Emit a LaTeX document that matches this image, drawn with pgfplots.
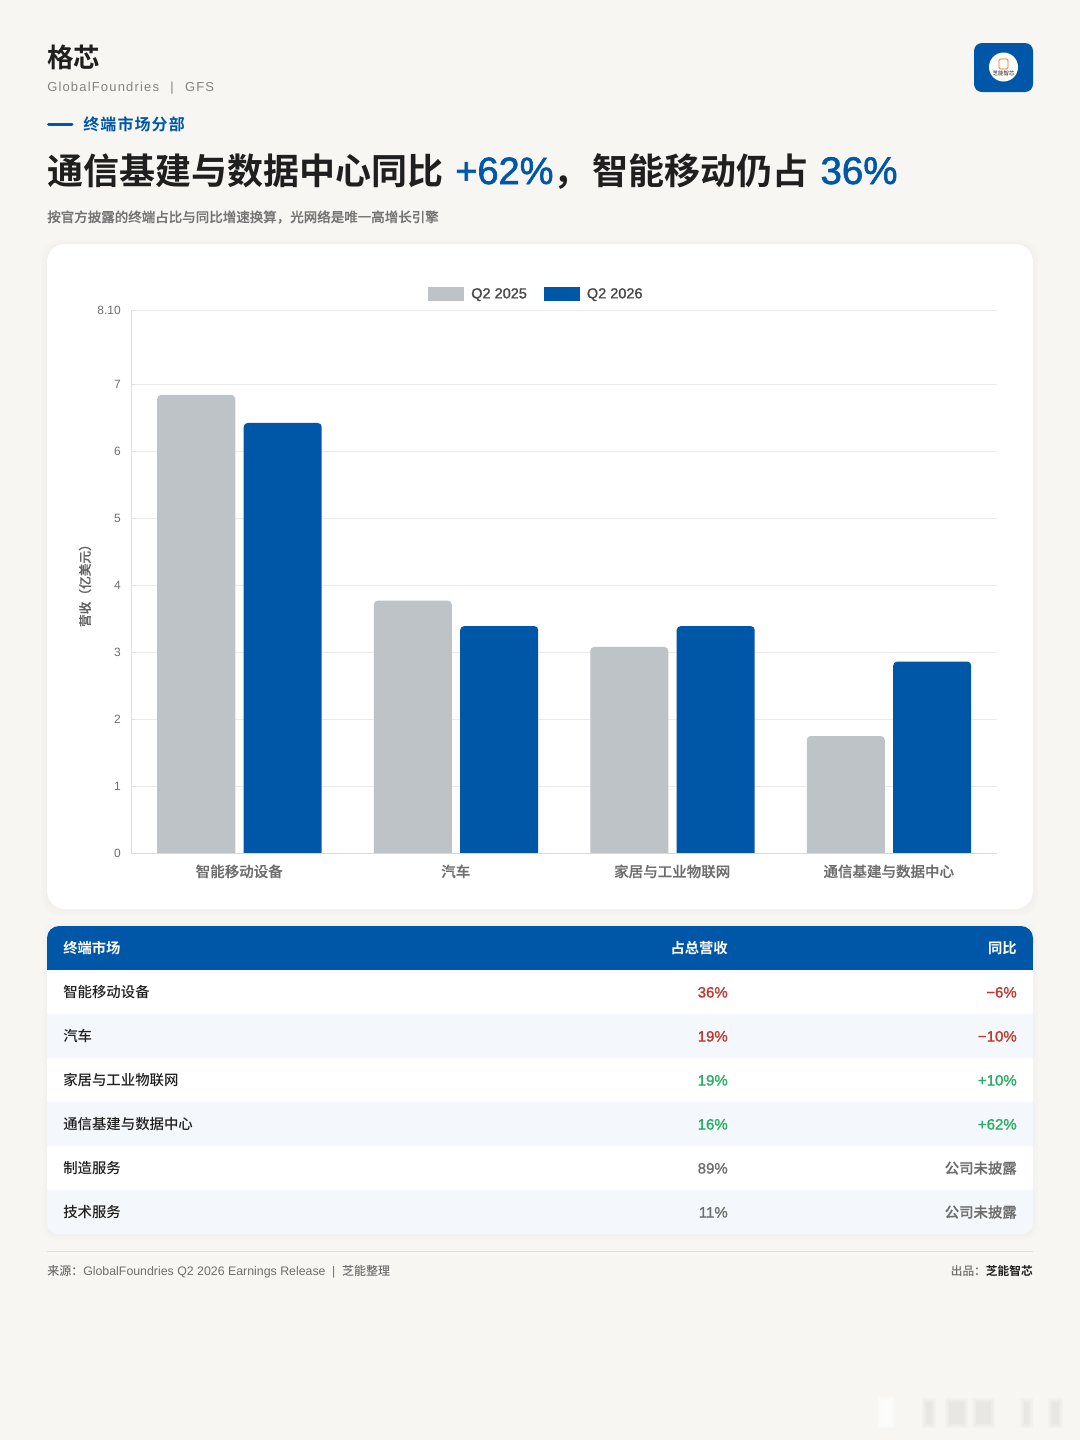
\documentclass[border=0pt]{standalone}
\usepackage{fontspec}
\usepackage{pgfplots}
\pgfplotsset{compat=1.18}
\setmainfont{Liberation Sans}
\newfontfamily\cjk{Noto Sans CJK SC Medium}
\newfontfamily\cjkn{Noto Sans CJK SC Medium}
\newfontfamily\cjkm[FakeBold=0.4]{Noto Sans CJK SC Medium}
\newfontfamily\cjkb{Noto Sans CJK SC Bold}
\newfontfamily\lsp[LetterSpace=9]{Liberation Sans}
\newfontfamily\lmed[FakeBold=1.2]{Liberation Sans}
\newfontfamily\lmedb[FakeBold=1.6]{Liberation Sans}
\newfontfamily\cjkbs[LetterSpace=7]{Noto Sans CJK SC Bold}
\definecolor{pagebg}{HTML}{F7F6F3}
\definecolor{gfblue}{HTML}{0057A8}
\definecolor{barg}{HTML}{BDC3C7}
\definecolor{ink}{HTML}{1F1F1F}
\definecolor{txtg}{HTML}{6E6E6E}
\definecolor{rowalt}{HTML}{F4F7FB}
\definecolor{redv}{HTML}{C0392B}
\definecolor{greenv}{HTML}{27AE60}
\makeatletter
\newcommand{\fs}[1]{\pgfmathsetmacro\@fsz{#1*0.75}\fontsize{\@fsz pt}{\@fsz pt}\selectfont}
\makeatother
\newcommand{\T}[4][ink]{\node[anchor=base #2,inner sep=0pt,text=#1] at #3 {#4};}
\tikzset{px/.style={x=0.75pt,y=-0.75pt}}
\begin{document}
\begin{tikzpicture}
\begin{scope}[px]
\useasboundingbox (0,0) rectangle (1080,1440);
\fill[pagebg] (0,0) rectangle (1080,1440);
% header
\T{west}{(47,67)}{\fs{26.5}\cjkb 格芯}
\T[txtg!85]{west}{(47,91)}{\fs{13}\lsp GlobalFoundries\hspace{8.5pt}|\hspace{8.5pt}GFS}
\draw[gfblue,line width=2.25pt,line cap=round] (48.5,124) -- (72,124);
\T[gfblue]{west}{(83,130)}{\fs{16}\cjkbs 终端市场分部}
\T{west}{(47,184)}{\fs{36}\cjkb 通信基建与数据中心同比\hspace{9pt}{\color{gfblue}\fs{38}\lmedb +62\%}{\cjkb ，}\hspace{2.25pt}智能移动仍占\hspace{9pt}{\color{gfblue}\fs{38.5}\lmedb 36\%}}
\T[txtg!95]{west}{(47,222)}{\fs{13.5}\cjkm 按官方披露的终端占比与同比增速换算，光网络是唯一高增长引擎}
% logo
\fill[gfblue,rounded corners=6pt] (974,43) rectangle (1033,92);
\fill[white] (1003.5,67) circle[radius=14.5];
\draw[orange!80!red,line width=0.6pt,rounded corners=1pt] (999,59) rectangle (1008,69);
\node[anchor=base,inner sep=0pt,text=black!75] at (1003.5,75.5) {\fs{5.5}\cjkn 芝能智芯};
% card shadow
\foreach \d in {1,2,...,6}{\fill[black,opacity=0.004,rounded corners=13.5pt] (47-\d,244-\d+1) rectangle (1033+\d,909+\d+1);}
\fill[white,rounded corners=13.5pt] (47,244) rectangle (1033,909);
\end{scope}
\begin{axis}[
  at={(98.25pt,-644pt)},anchor=south west,
  scale only axis,width=649.5pt,height=411.27pt,
  xmin=-0.5,xmax=3.5,ymin=-0.08,ymax=8.1,
  y coord trafo/.code={\pgfmathparse{#1+0.08}},
  ytick={0,1,2,3,4,5,6,7,8.1},
  yticklabels={0,1,2,3,4,5,6,7,8.10},
  xtick={0,1,2,3},
  xticklabels={{\cjkm 智能移动设备},{\cjkm 汽车},{\cjkm 家居与工业物联网},{\cjkm 通信基建与数据中心}},
  axis y line*=left,axis x line*=bottom,
  axis line style={draw=black!13,-},
  ymajorgrids,
  grid style={draw=black!8,line width=0.6pt},
  ytick style={draw=black!12,line width=0.6pt},
  xtick style={draw=none},
  major tick length=3pt,
  yticklabel style={font=\fs{12},text=txtg,inner sep=0pt,xshift=-7.5pt},
  xticklabel style={font=\fs{14.5},text=txtg,inner sep=0pt,yshift=-1.25pt},
  every axis y label/.style={at={(axis description cs:-0.0531,0.5035)},rotate=90,anchor=center,font=\fs{12.7},text=txtg!90!black},
  ylabel={\cjkm 营收（亿美元）},
  legend columns=2,
  legend cell align=left,
  legend style={at={(axis description cs:0.467,1.0292)},anchor=center,draw=none,fill=none,inner sep=0pt,font=\fs{14.5}\lmed,text=black!72,
    /tikz/every even column/.style={column sep=12.75pt},
    nodes={inner sep=0pt}},
  ybar,
]
\addplot[ybar,fill=barg,draw=none,bar width=58.5pt,bar shift=-32.25pt,rounded corners=3pt,
  legend image code/.code={\fill[barg,sharp corners] (0pt,-5.25pt) rectangle (27pt,5.25pt);\path (32.25pt,0pt);}]
  coordinates {(0,6.84) (1,3.77) (2,3.08) (3,1.75)};
\addplot[ybar,fill=gfblue,draw=none,bar width=58.5pt,bar shift=32.6pt,rounded corners=3pt,
  legend image code/.code={\fill[gfblue,sharp corners] (0pt,-5.25pt) rectangle (27pt,5.25pt);\path (32.25pt,0pt);}]
  coordinates {(0,6.42) (1,3.39) (2,3.39) (3,2.86)};
\legend{Q2 2025,Q2 2026}
\end{axis}
\begin{scope}[px]
% square off the foot of the bars and redraw the baseline
\fill[white] (125,853.7) rectangle (998,860);
\draw[black!15,line width=0.75pt] (131,853.4) -- (997,853.4);
% table
\foreach \d in {1,2,...,5}{\fill[black,opacity=0.004,rounded corners=9pt] (47-\d,926-\d+1) rectangle (1033+\d,1234+\d+1);}
\fill[white,rounded corners=9pt] (47,926) rectangle (1033,1234);
\fill[rowalt] (47,1014) rectangle (1033,1058);
\fill[rowalt] (47,1102) rectangle (1033,1146);
\fill[rowalt,rounded corners=9pt] (47,1190) rectangle (1033,1234);
\fill[rowalt] (47,1190) rectangle (1033,1205);
\fill[gfblue,rounded corners=9pt] (47,926) rectangle (1033,955);
\fill[gfblue] (47,942) rectangle (1033,969.5);
\T[white]{west}{(63,953)}{\fs{14.3}\cjkb 终端市场}
\T[white]{east}{(728,953)}{\fs{14.3}\cjkb 占总营收}
\T[white]{east}{(1017,953)}{\fs{14.3}\cjkb 同比}
\newcommand{\rw}[5]{%
  \T{west}{(63,#1)}{\fs{14.4}\cjk #2}%
  \T[#4]{east}{(728,#1)}{\fs{15}\lmed #3}%
  \T[#4]{east}{(1017,#1)}{\fs{15}\lmed #5}}
\rw{997.5}{智能移动设备}{36\%}{redv}{−6\%}
\rw{1041.5}{汽车}{19\%}{redv}{−10\%}
\rw{1085.5}{家居与工业物联网}{19\%}{greenv}{+10\%}
\rw{1129.5}{通信基建与数据中心}{16\%}{greenv}{+62\%}
\rw{1173.5}{制造服务}{89\%}{txtg}{\fs{14.4}\cjkm 公司未披露}
\rw{1217.5}{技术服务}{11\%}{txtg}{\fs{14.4}\cjkm 公司未披露}
% footer
\draw[black!13,line width=0.75pt] (47,1251.5) -- (1033,1251.5);
\T[txtg]{west}{(47,1275.5)}{\fs{12}{\cjkn 来源：}\fs{12.35}GlobalFoundries Q2 2026 Earnings Release\hspace{5pt}|\hspace{5pt}\fs{12}{\cjkn 芝能整理}}
\T[txtg]{east}{(1033,1275.5)}{\fs{11.7}{\cjkn 出品：}{\color{ink}\cjkb 芝能智芯}}
% faint watermark
\foreach \e in {0,2,4}{\fill[white,opacity=0.35] (878+\e,1397+\e) rectangle (895-\e,1428-\e);}
\foreach \xa/\xb in {922/936,945/968,972/995,1020/1033,1048/1063}{
  \foreach \e in {0,2,4}{\fill[black,opacity=0.018] (\xa+\e,1398+\e) rectangle (\xb-\e,1428-\e);}}
\end{scope}
\end{tikzpicture}
\end{document}
